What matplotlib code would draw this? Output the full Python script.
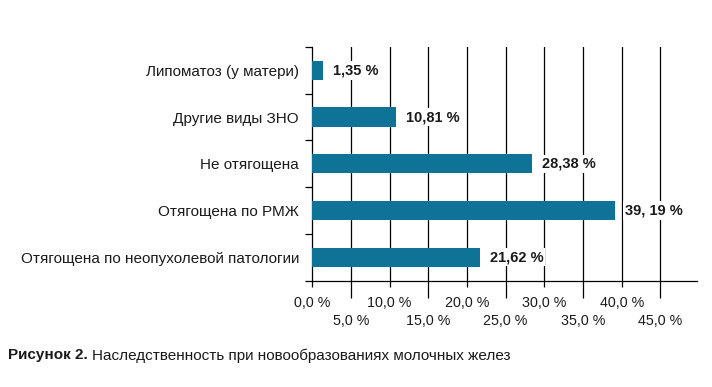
import matplotlib
matplotlib.use("Agg")
import matplotlib.pyplot as plt
import numpy as np

categories = ["Отягощена по неопухолевой патологии", "Отягощена по РМЖ",
              "Не отягощена", "Другие виды ЗНО", "Липоматоз (у матери)"]
values = [21.62, 39.19, 28.38, 10.81, 1.35]
value_labels = ["21,62 %", "39, 19 %", "28,38 %", "10,81 %", "1,35 %"]
major_ticks = [0, 10, 20, 30, 40]
minor_ticks = [5, 15, 25, 35, 45]
major_labels = ["0,0 %", "10,0 %", "20,0 %", "30,0 %", "40,0 %"]
minor_labels = ["5,0 %", "15,0 %", "25,0 %", "35,0 %", "45,0 %"]

plt.rcParams['font.family'] = ['Liberation Sans', 'DejaVu Sans']
color = "#0e7396"
tc = '#1a1a1a'

fig = plt.figure(figsize=(7.12, 3.87), dpi=100)
ax = fig.add_axes([312.3/712, 1-280.5/387, (696.7-312.3)/712, (280.5-47)/387])

y = np.arange(len(categories))
ax.barh(y, values, height=0.41, color=color, zorder=3)
ax.set_xlim(0, 49.7)
ax.set_ylim(-0.5, len(categories)-0.5)

for yi, v, lab in zip(y, values, value_labels):
    ax.annotate(lab, (v, yi), xytext=(10, 0), textcoords='offset pixels',
                va='center', ha='left', fontsize=10.5, fontweight='bold', color=tc,
                bbox=dict(boxstyle='square,pad=0.15', fc='white', ec='none'), zorder=4)

for xv in major_ticks[1:] + minor_ticks:
    ax.axvline(xv, color='black', lw=0.9, zorder=1)

ax.set_yticks(y)
ax.set_yticklabels(categories, fontsize=11, color=tc)
ax.set_yticks(np.arange(-0.5, len(categories)), minor=True)
ax.tick_params(axis='y', which='major', length=0, pad=9.5)
ax.tick_params(axis='y', which='minor', length=5, width=0.9, direction='out')

ax.set_xticks(major_ticks)
ax.set_xticklabels(major_labels, fontsize=10.3, color=tc)
ax.set_xticks(minor_ticks, minor=True)
ax.set_xticklabels(minor_labels, minor=True, fontsize=10.3, color=tc)
ax.tick_params(axis='x', which='major', length=4.5, width=0.9, pad=6.5)
ax.tick_params(axis='x', which='minor', length=12, width=0.9, pad=12)

for s in ['top', 'right']:
    ax.spines[s].set_visible(False)
for s in ['left', 'bottom']:
    ax.spines[s].set_linewidth(0.9)
    ax.spines[s].set_color('black')

fig.text(8/712, 1-355.5/387, "Рисунок 2.", fontsize=11, fontweight='bold',
         va='center', ha='left', color=tc)
fig.text(92/712, 1-355.5/387, "Наследственность при новообразованиях молочных желез",
         fontsize=11, va='center', ha='left', color=tc)

fig.savefig("out.png", dpi=100)
